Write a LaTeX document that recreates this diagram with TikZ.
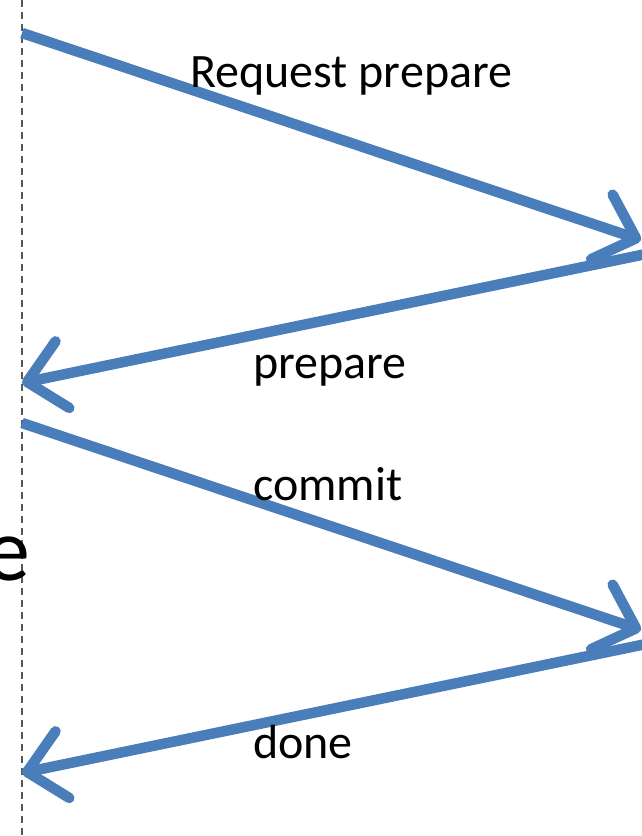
\documentclass[tikz,border=0pt]{standalone}
\usepackage{fontspec}
\setmainfont{Carlito}
\usetikzlibrary{arrows.meta}
\definecolor{msgblue}{RGB}{74,126,187}
\definecolor{lifegray}{RGB}{89,89,89}
\tikzset{
  msg/.style={draw=msgblue, line width=10.5pt,
    -{Straight Barb[length=36pt, width=68pt, round]}},
  lifeline/.style={draw=lifegray, line width=2pt, dash pattern=on 7pt off 5pt},
  msglabel/.style={inner sep=0pt, anchor=base west, font=\fontsize{48}{52}\selectfont},
}
\begin{document}
\begin{tikzpicture}[x=1pt, y=-1pt]
  \useasboundingbox (0,0) rectangle (642,836);
  \clip (0,0) rectangle (642,836);
  % participant lifeline
  \coordinate (ltop) at (22,0);
  \coordinate (lbot) at (22,836);
  \draw[lifeline] (ltop) -- (lbot);
  % participant name, running past the left edge
  \node[inner sep=0pt, anchor=base west, font=\fontsize{90}{95}\selectfont] (pname) at (-15,580) {e};
  % message end points
  \coordinate (a0) at (22,33);
  \coordinate (a1) at (641,240);
  \coordinate (b0) at (646,254);
  \coordinate (b1) at (22,383);
  \coordinate (c0) at (22,423);
  \coordinate (c1) at (641,630);
  \coordinate (d0) at (646,644);
  \coordinate (d1) at (22,773);
  % messages
  \draw[msg] (a0) -- (a1);
  \draw[msg] (b0) -- (b1);
  \draw[msg] (c0) -- (c1);
  \draw[msg] (d0) -- (d1);
  % labels
  \node[msglabel] (lreq) at (190,87) {Request prepare};
  \node[msglabel] (lprep) at (253,378) {prepare};
  \node[msglabel] (lcommit) at (253,500) {commit};
  \node[msglabel] (ldone) at (253,758) {done};
\end{tikzpicture}
\end{document}
